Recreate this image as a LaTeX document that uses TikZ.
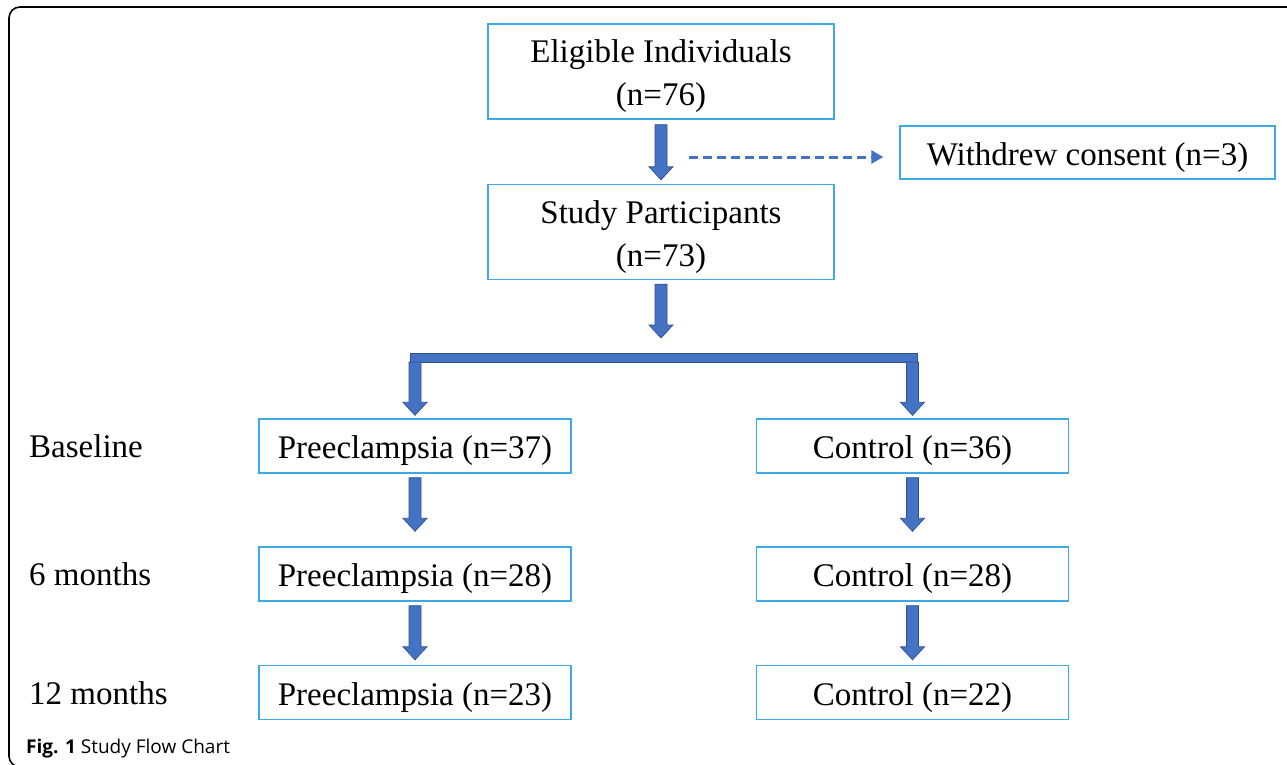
\documentclass[tikz,border=0pt]{standalone}
\usepackage{fontspec}
\setmainfont{Liberation Serif}
\newfontfamily\capfont{Open Sans}
\usetikzlibrary{arrows.meta,calc}
\definecolor{boxblue}{HTML}{3DAAE6}
\definecolor{arrowblue}{HTML}{4472C4}
\definecolor{arrowdark}{HTML}{2F528F}
\newcommand\strutdown{\rule{0pt}{33pt}}
\begin{document}
\begin{tikzpicture}[x=1pt,y=-1pt,
  box/.style={draw=boxblue,line width=1.4pt,inner sep=0pt,align=center,
    font=\fontsize{33}{43}\selectfont},
  bigbox/.style={box,minimum width=346pt,minimum height=95pt},
  rowbox/.style={box,minimum width=312pt,minimum height=54pt},
  rowlabel/.style={anchor=base west,inner sep=0pt,font=\fontsize{33}{40}\selectfont},
  blockarrow/.style={fill=arrowblue,draw=arrowdark,line width=0.7pt,line join=miter,
    to path={let \p1=(\tikztostart),\p2=(\tikztotarget) in
      ({\x1-6pt},{\y1}) -- ({\x1+6pt},{\y1}) -- ({\x1+6pt},{\y2+13pt}) --
      ({\x1+12pt},{\y2+13pt}) -- ({\x1},{\y2}) -- ({\x1-12pt},{\y2+13pt}) --
      ({\x1-6pt},{\y2+13pt}) -- cycle}},
  dasharrow/.style={draw=arrowblue,line width=3pt,dash pattern=on 9pt off 5pt,
    -{Triangle[width=13pt,length=12pt]}}
]
\useasboundingbox (0,0) rectangle (1287,764);
\clip (0,0) rectangle (1287,764);
% outer frame
\draw[line width=1.6pt,rounded corners=11pt] (9,7) rectangle (1310,767);

% boxes
\node[bigbox] (elig) at (661,71.5) {\strutdown Eligible Individuals\\(n=76)};
\node[bigbox] (study) at (661,232) {\strutdown Study Participants\\(n=73)};
\node[box,minimum width=375pt,minimum height=53pt] (wd) at (1087.5,152.5) {\strutdown Withdrew consent (n=3)};

\node[rowbox] (pre1) at (415,446) {\strutdown Preeclampsia (n=37)};
\node[rowbox] (con1) at (912.5,446) {\strutdown Control (n=36)};
\node[rowbox] (pre2) at (415,574) {\strutdown Preeclampsia (n=28)};
\node[rowbox] (con2) at (912.5,574) {\strutdown Control (n=28)};
\node[rowbox] (pre3) at (415,692.5) {\strutdown Preeclampsia (n=23)};
\node[rowbox] (con3) at (912.5,692.5) {\strutdown Control (n=22)};

% row labels
\node[rowlabel] (lb1) at (29,457) {Baseline};
\node[rowlabel] (lb2) at (29,585) {6 months};
\node[rowlabel] (lb3) at (29,704) {12 months};

% caption
\node[anchor=base west,inner sep=0pt,font=\capfont\fontsize{19}{22}\selectfont] (cap) at (26,753)
  {\textbf{Fig. 1} Study Flow Chart};

% block arrows
\draw[blockarrow] ([yshift=-5pt]elig.south) to ([yshift=4pt]study.north);
\coordinate (barmid) at (661,352);
\draw[blockarrow] ([yshift=-4pt]study.south) to ([yshift=14pt]barmid);
% bracket bar
\coordinate (bl) at (410,362);
\coordinate (br) at (917,362);
\draw[fill=arrowblue,draw=arrowdark,line width=0.7pt] (410,353) rectangle (917,362);
\draw[blockarrow] (bl -| pre1.north) to ([yshift=3pt]pre1.north);
\draw[blockarrow] (br -| con1.north) to ([yshift=3pt]con1.north);

\draw[blockarrow] ([yshift=-4pt]pre1.south) to ([yshift=15pt]pre2.north);
\draw[blockarrow] ([yshift=-4pt]con1.south) to ([yshift=15pt]con2.north);
\draw[blockarrow] ([yshift=-4pt]pre2.south) to ([yshift=5pt]pre3.north);
\draw[blockarrow] ([yshift=-4pt]con2.south) to ([yshift=5pt]con3.north);

% dashed arrow
\coordinate (ds) at (689,157);
\draw[dasharrow] (ds) -- ([xshift=-16pt]ds -| wd.west);
\end{tikzpicture}
\end{document}
